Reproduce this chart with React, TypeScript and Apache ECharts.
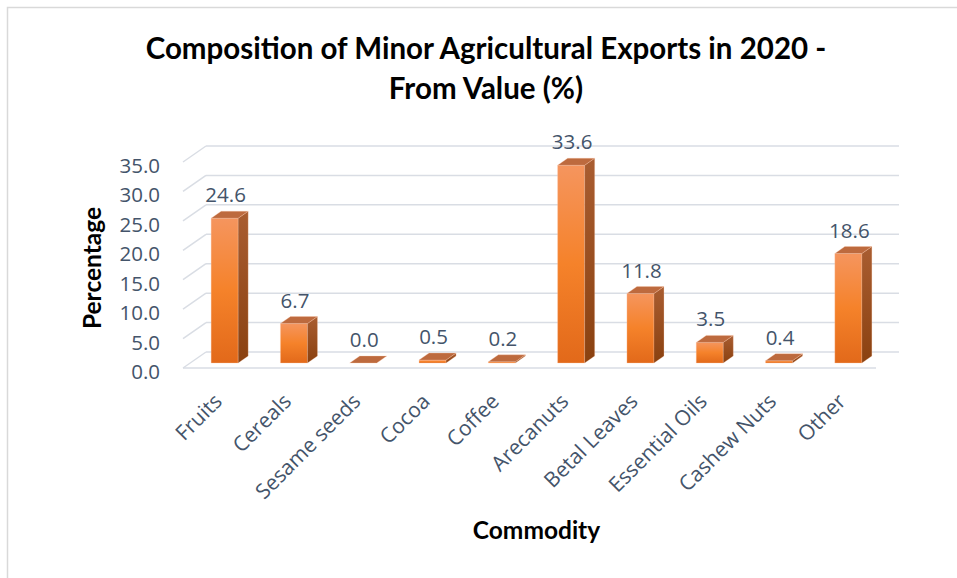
import React, { useEffect, useRef } from "react";
import * as echarts from "echarts";

const categories = [
  "Fruits",
  "Cereals",
  "Sesame seeds",
  "Cocoa",
  "Coffee",
  "Arecanuts",
  "Betal Leaves",
  "Essential Oils",
  "Cashew Nuts",
  "Other",
];
const values = [24.6, 6.7, 0.0, 0.5, 0.2, 33.6, 11.8, 3.5, 0.4, 18.6];
const yTicks = [0, 5, 10, 15, 20, 25, 30, 35];

const TEXT_COLOR = "#44546a";
const GRID_COLOR = "#d9dde4";

// 3D depth offsets (px)
const FRONT_DX = -7;
const FRONT_DY = 5;
const BACK_DX = 16;
const BACK_DY = -11;
const BAR_DX = 10;
const BAR_DY = -7;

export default function App() {
  const ref = useRef<HTMLDivElement>(null);

  useEffect(() => {
    document.body.style.margin = "0";
    if (!ref.current) return;
    const chart = echarts.init(ref.current, undefined, { renderer: "svg" });

    const frontFill = new echarts.graphic.LinearGradient(0, 0, 0, 1, [
      { offset: 0, color: "#f5955e" },
      { offset: 0.5, color: "#f5822a" },
      { offset: 1, color: "#e2691a" },
    ]);
    const sideFill = new echarts.graphic.LinearGradient(0, 0, 0, 1, [
      { offset: 0, color: "#a95d31" },
      { offset: 1, color: "#8a4110" },
    ]);

    const option: any = {
      animation: false,
      backgroundColor: "#ffffff",
      title: {
        text: "Composition of Minor Agricultural Exports in 2020 -\nFrom Value (%)",
        left: 481,
        textAlign: "center",
        top: 22,
        textStyle: {
          fontFamily: "Lato",
          fontWeight: "bold",
          fontSize: 29.5,
          lineHeight: 40,
          color: "#000000",
        },
      },
      graphic: [
        {
          type: "rect",
          shape: { x: 7.5, y: 7.5, width: 980, height: 600 },
          style: { fill: "none", stroke: "#d9d9d9", lineWidth: 1.5 },
          silent: true,
        },
      ],
      grid: { left: 190, right: 74, top: 157, bottom: 215 },
      xAxis: {
        type: "category",
        data: categories,
        axisLine: { show: false },
        axisTick: { show: false },
        axisLabel: {
          rotate: 45,
          margin: 27,
          color: TEXT_COLOR,
          fontSize: 21,
          fontFamily: "Open Sans",
          interval: 0,
          formatter: (v: string) => "{c|" + v + "}",
          rich: {
            c: {
              color: TEXT_COLOR,
              fontSize: 21,
              fontFamily: "Open Sans",
              padding: [0, 10, 0, 0],
            },
          },
        },
        name: "Commodity",
        nameLocation: "middle",
        nameGap: 154,
        nameTextStyle: {
          fontFamily: "Lato",
          fontWeight: "bold",
          fontSize: 24.5,
          color: "#000000",
        },
      },
      yAxis: {
        type: "value",
        min: 0,
        max: 35,
        interval: 5,
        splitLine: { show: false },
        axisLine: { show: false },
        axisTick: { show: false },
        axisLabel: {
          margin: 30,
          color: TEXT_COLOR,
          fontSize: 20.5,
          fontFamily: "Open Sans",
          verticalAlign: "top",
          lineHeight: 16,
          formatter: (v: number) => v.toFixed(1),
        },
        name: "Percentage",
        nameLocation: "middle",
        nameGap: 86,
        nameTextStyle: {
          fontFamily: "Lato",
          fontWeight: "bold",
          fontSize: 24.5,
          color: "#000000",
          padding: [0, 16, 0, 0],
        },
      },
      series: [
        {
          type: "custom",
          silent: true,
          data: yTicks.map((t) => [0, t]),
          renderItem: (params: any, api: any) => {
            const cs = params.coordSys;
            const p = api.coord([0, api.value(1)]);
            const y = p[1];
            const xl = cs.x;
            const xr = cs.x + cs.width;
            const lineStyle = { stroke: GRID_COLOR, lineWidth: 1.5, fill: "none" };
            const children: any[] = [
              {
                type: "line",
                shape: { x1: xl + BACK_DX, y1: y + BACK_DY, x2: xr + BACK_DX, y2: y + BACK_DY },
                style: lineStyle,
              },
              {
                type: "line",
                shape: { x1: xl + FRONT_DX, y1: y + FRONT_DY, x2: xl + BACK_DX, y2: y + BACK_DY },
                style: lineStyle,
              },
            ];
            if (api.value(1) === 0) {
              children.push({
                type: "line",
                shape: { x1: xl + FRONT_DX, y1: y + FRONT_DY, x2: xr + FRONT_DX, y2: y + FRONT_DY },
                style: lineStyle,
              });
            }
            return { type: "group", children };
          },
        },
        {
          type: "custom",
          silent: true,
          data: values.map((v, i) => [i, v]),
          renderItem: (params: any, api: any) => {
            const v = api.value(1);
            const top = api.coord([api.value(0), v]);
            const base = api.coord([api.value(0), 0]);
            const band = api.size([1, 0])[0];
            const w = band * 0.39;
            const xl = top[0] - w / 2;
            const xr = top[0] + w / 2;
            const yt = top[1];
            const yb = base[1];
            const h = yb - yt;
            const children: any[] = [];
            if (h > 0.01) {
              children.push({
                type: "rect",
                shape: { x: xl, y: yt, width: w, height: h },
                style: { fill: frontFill, stroke: "rgba(255,200,170,0.55)", lineWidth: 0.6 },
              });
              children.push({
                type: "polygon",
                shape: {
                  points: [
                    [xr, yt],
                    [xr + BAR_DX, yt + BAR_DY],
                    [xr + BAR_DX, yb + BAR_DY],
                    [xr, yb],
                  ],
                },
                style: { fill: sideFill, stroke: "rgba(255,200,170,0.4)", lineWidth: 0.6 },
              });
            }
            children.push({
              type: "polygon",
              shape: {
                points: [
                  [xl, yt],
                  [xl + BAR_DX, yt + BAR_DY],
                  [xr + BAR_DX, yt + BAR_DY],
                  [xr, yt],
                ],
              },
              style: { fill: "#bd6a3e", stroke: "rgba(255,200,170,0.5)", lineWidth: 0.6 },
            });
            children.push({
              type: "text",
              style: {
                text: v.toFixed(1),
                x: top[0] + 1,
                y: yt - 24,
                align: "center",
                verticalAlign: "middle",
                fill: TEXT_COLOR,
                fontSize: 20.5,
                fontFamily: "Open Sans",
              },
            });
            return { type: "group", children };
          },
        },
      ],
    };

    chart.setOption(option);
    return () => chart.dispose();
  }, []);

  return <div ref={ref} style={{ width: 957, height: 578 }} />;
}
